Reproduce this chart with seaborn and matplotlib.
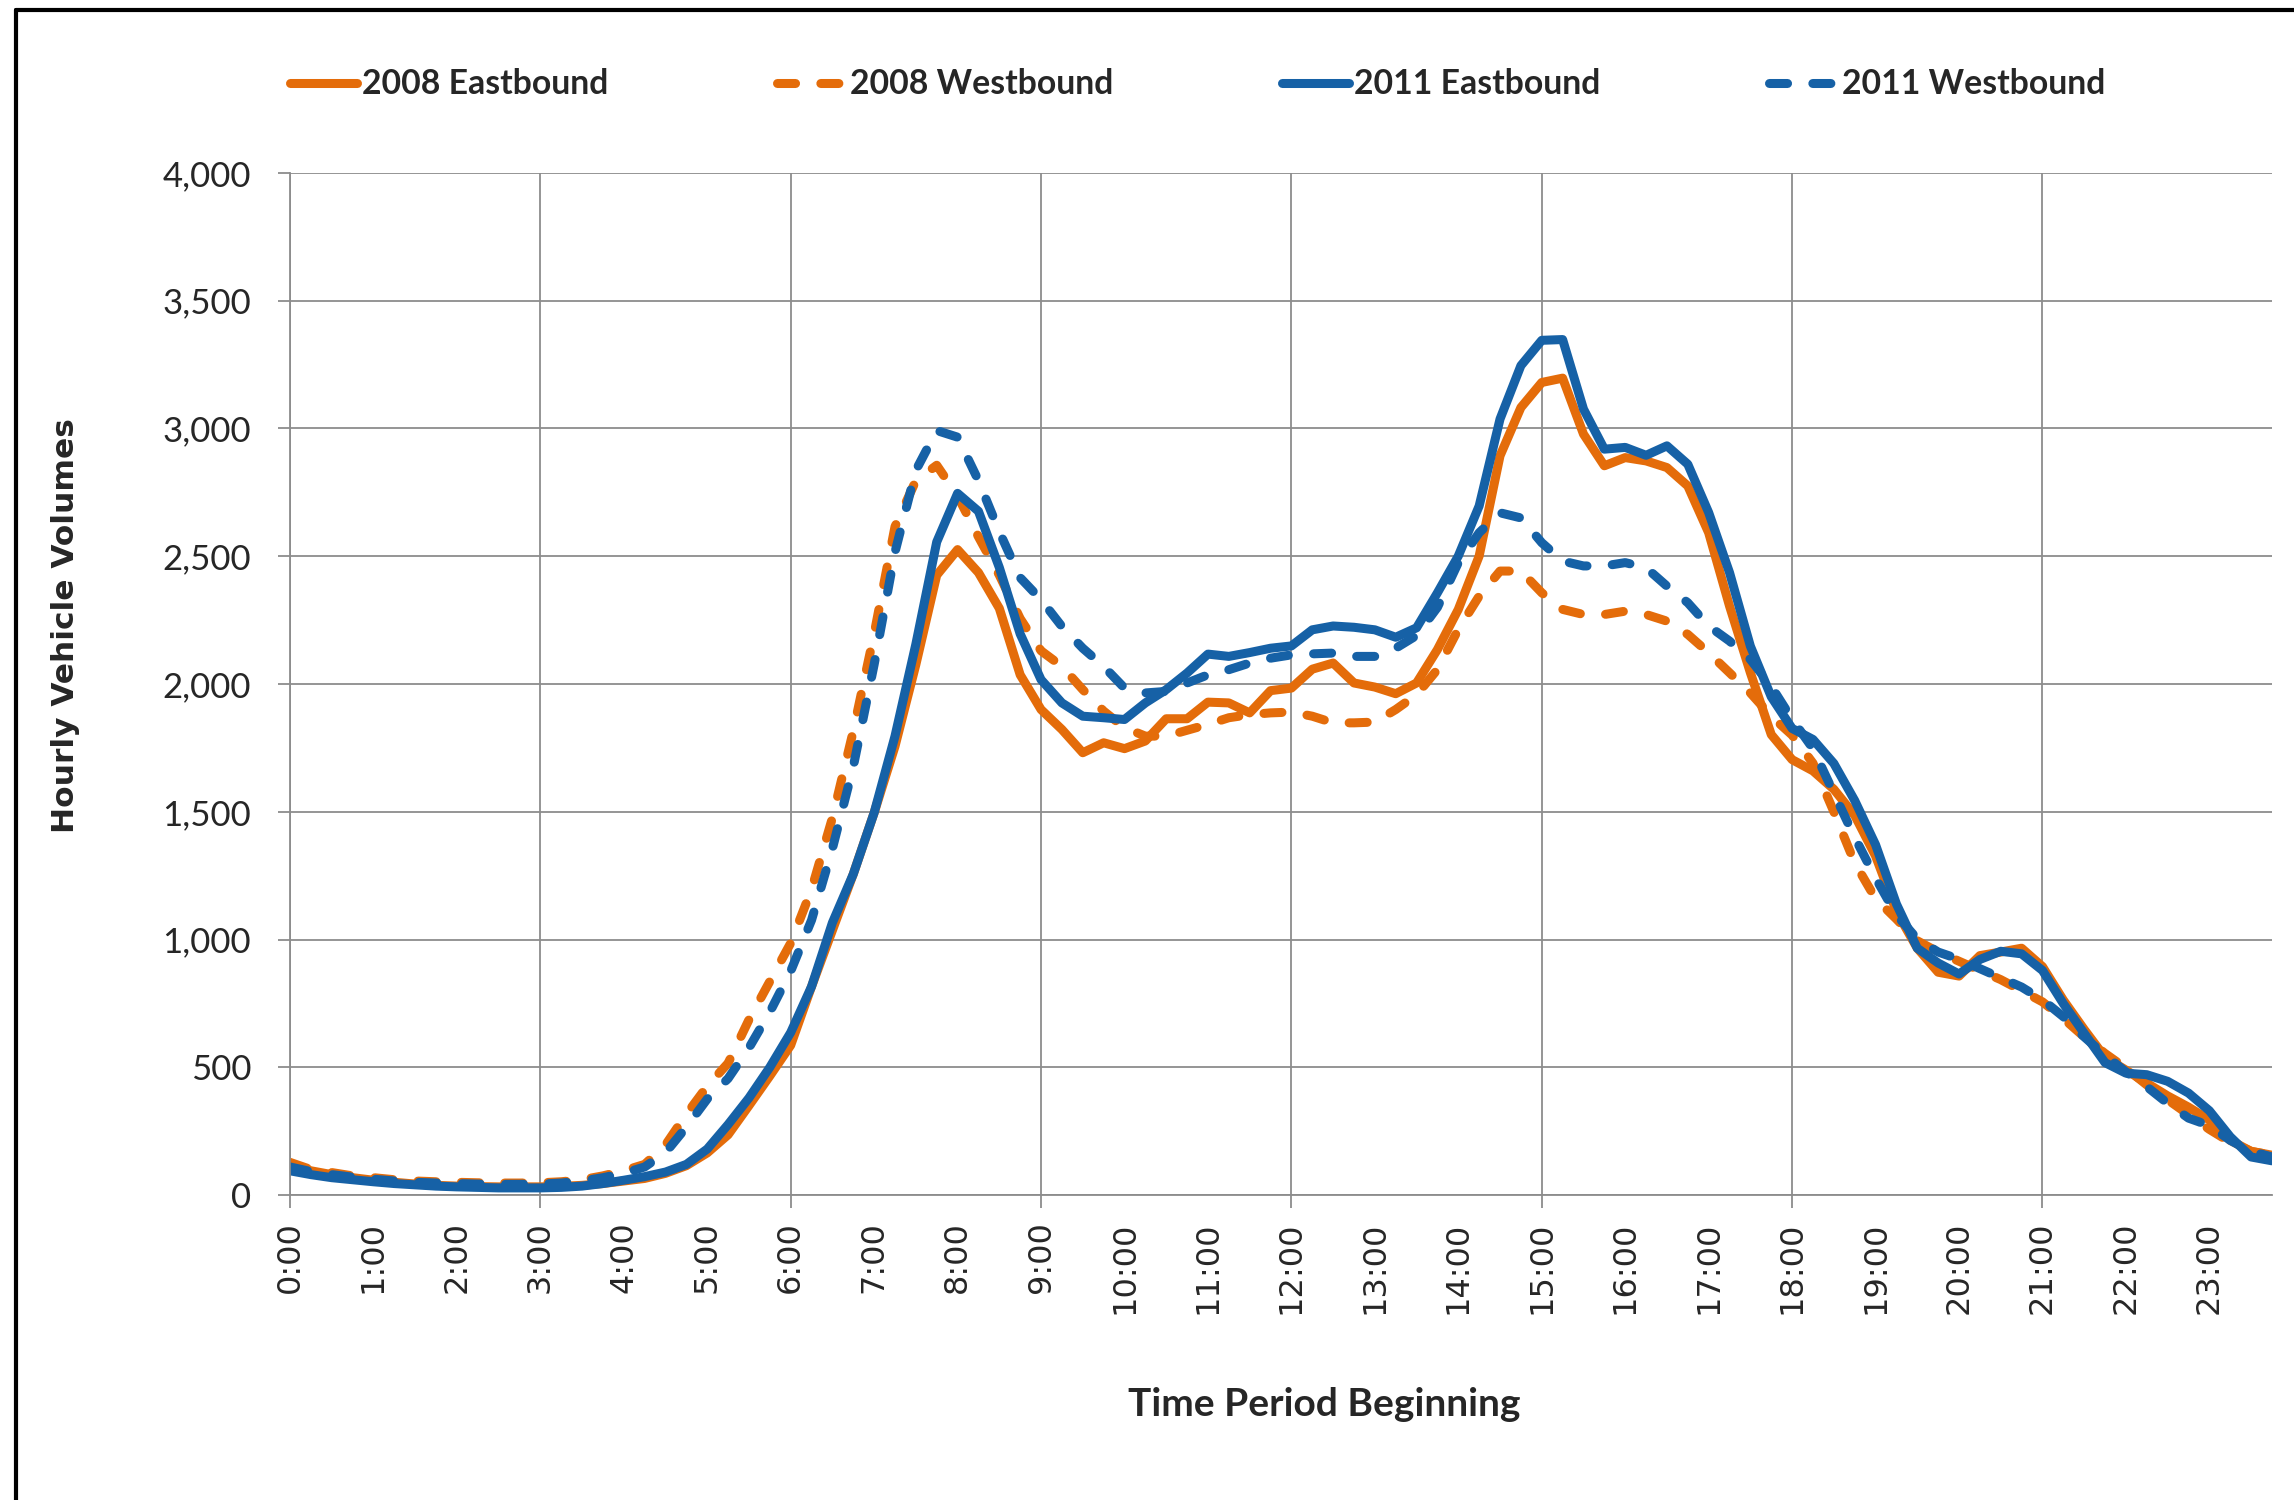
import numpy as np
import pandas as pd
import seaborn as sns
import matplotlib.pyplot as plt
from matplotlib import font_manager
from matplotlib.lines import Line2D
from matplotlib.ticker import FuncFormatter, MultipleLocator

# 15-minute counts, 0:00 .. 23:45 (hourly vehicle volumes)
eb_2008 = [115, 95, 80, 68, 58, 50, 43, 38, 35, 33, 32, 32, 32, 34, 38, 45,
           55, 65, 85, 115, 165, 236, 350, 466, 586, 816, 1036, 1256,
           1496, 1756, 2076, 2426, 2526, 2436, 2296, 2036, 1900, 1822, 1731, 1770,
           1747, 1777, 1864, 1864, 1929, 1926, 1887, 1974, 1984, 2058, 2082, 2004,
           1988, 1962, 2004, 2135, 2292, 2501, 2893, 3082, 3180, 3197, 2978, 2854,
           2886, 2873, 2847, 2775, 2592, 2305, 2044, 1802, 1704, 1660, 1588, 1486,
           1327, 1110, 966, 872, 857, 937, 951, 966, 894, 763, 648, 539,
           489, 438, 388, 344, 294, 214, 171, 156]
wb_2008 = [128, 100, 88, 75, 68, 60, 55, 52, 50, 48, 47, 47, 48, 52, 60, 75,
           95, 120, 196, 316, 426, 516, 686, 836, 986, 1196, 1476, 1816,
           2196, 2616, 2796, 2856, 2736, 2576, 2426, 2256, 2130, 2069, 1978, 1894,
           1829, 1796, 1796, 1819, 1842, 1868, 1880, 1887, 1890, 1874, 1848, 1848,
           1851, 1900, 1958, 2057, 2214, 2344, 2442, 2442, 2357, 2292, 2272, 2272,
           2285, 2272, 2246, 2194, 2122, 2044, 1965, 1874, 1800, 1690, 1500, 1300,
           1160, 1080, 995, 951, 915, 879, 843, 800, 756, 691, 619, 554,
           496, 431, 373, 315, 257, 207, 171, 156]
eb_2011 = [95, 80, 68, 60, 52, 45, 40, 35, 32, 30, 28, 28, 28, 30, 35, 45,
           58, 72, 90, 120, 180, 276, 380, 500, 636, 816, 1066, 1256,
           1496, 1796, 2156, 2556, 2746, 2676, 2456, 2196, 2017, 1926, 1874, 1868,
           1861, 1926, 1978, 2043, 2117, 2108, 2123, 2140, 2149, 2212, 2227, 2222,
           2212, 2183, 2220, 2357, 2501, 2697, 3037, 3246, 3345, 3348, 3076, 2919,
           2926, 2895, 2932, 2860, 2671, 2436, 2148, 1950, 1826, 1783, 1689, 1544,
           1371, 1139, 966, 908, 865, 922, 954, 944, 879, 749, 633, 518,
           477, 471, 445, 399, 330, 228, 149, 134]
wb_2011 = [110, 92, 80, 70, 62, 55, 50, 47, 45, 43, 42, 42, 43, 47, 55, 68,
           85, 110, 166, 266, 376, 456, 576, 716, 876, 1076, 1356, 1676,
           2076, 2516, 2836, 2992, 2966, 2796, 2596, 2416, 2330, 2225, 2140, 2069,
           1984, 1965, 1971, 2004, 2036, 2056, 2082, 2101, 2114, 2118, 2121, 2108,
           2108, 2140, 2190, 2300, 2475, 2592, 2670, 2650, 2553, 2481, 2462, 2462,
           2475, 2455, 2383, 2318, 2227, 2168, 2096, 1991, 1862, 1747, 1573, 1400,
           1241, 1096, 1002, 951, 923, 886, 850, 814, 764, 698, 619, 547,
           482, 424, 359, 301, 272, 214, 171, 149]

series_names = ['2008 Eastbound', '2008 Westbound', '2011 Eastbound', '2011 Westbound']
hours = np.arange(96) / 4.0
hour_labels = ['%d:00' % h for h in range(24)]

orange = '#E46C0A'
blue = '#1661A6'
grid_col = '#8C8C8C'
dash = (0, (2.0, 2.8))

sns.set_theme(style='white')
plt.rcParams['font.family'] = ['Lato', 'DejaVu Sans']

# condensed DejaVu for the rotated hour labels if it is there
installed = {f.name for f in font_manager.fontManager.ttflist}
if 'DejaVu Sans Condensed' in installed:
    xtick_font, xtick_size = 'DejaVu Sans Condensed', 25
else:
    xtick_font, xtick_size = 'DejaVu Sans', 23

fig = plt.figure(figsize=(22.94, 15), dpi=100)
ax = fig.add_axes([0.1264, 0.2033, 0.864, 0.6814])

styles = [(orange, '-'), (orange, dash), (blue, '-'), (blue, dash)]
for name, vals, (col, ls) in zip(series_names, [eb_2008, wb_2008, eb_2011, wb_2011], styles):
    df = pd.DataFrame({'hour': hours, 'volume': vals})
    sns.lineplot(data=df, x='hour', y='volume', ax=ax, color=col, linestyle=ls,
                 linewidth=6.5, label=name, dash_capstyle='round',
                 solid_capstyle='round', solid_joinstyle='round', legend=False)

ax.set_xlim(0, 23.75)
ax.set_ylim(0, 4000)

# y axis
ax.yaxis.set_major_locator(MultipleLocator(500))
ax.yaxis.set_major_formatter(FuncFormatter(lambda v, p: '{:,.0f}'.format(v)))
ax.tick_params(axis='y', which='major', left=True, length=9, width=1.3, color=grid_col,
               pad=19, labelsize=25)
ax.grid(axis='y', color=grid_col, linewidth=1.3)

# x axis: labels each hour, ticks + grid every 3 hours
ax.set_xticks(range(24))
ax.set_xticklabels(hour_labels, rotation=90, family=xtick_font, fontsize=xtick_size)
ax.xaxis.set_minor_locator(MultipleLocator(3))
ax.xaxis.remove_overlapping_locs = False
ax.tick_params(axis='x', which='major', bottom=True, length=0, pad=19)
ax.tick_params(axis='x', which='minor', bottom=True, length=9, width=1.3, color=grid_col)
ax.grid(axis='x', which='minor', color=grid_col, linewidth=1.3)
ax.grid(axis='x', which='major', visible=False)

for s in ['top', 'right']:
    ax.spines[s].set_visible(False)
for s in ['left', 'bottom']:
    ax.spines[s].set_color(grid_col)
    ax.spines[s].set_linewidth(1.3)

ax.set_xlabel('Time Period Beginning', fontsize=28, fontweight='bold')
ax.xaxis.set_label_coords(0.5217, -0.188)
ax.set_ylabel('Hourly Vehicle Volumes', fontsize=22.5, fontweight='bold', family='DejaVu Sans')
ax.yaxis.set_label_coords(-0.106, 0.557)

handles, labels = ax.get_legend_handles_labels()
fig.legend(handles, labels, loc='center', bbox_to_anchor=(0.522, 0.9437), ncol=4,
           frameon=False, prop={'size': 24.3, 'weight': 'bold'}, handlelength=2.0,
           handletextpad=0.15, columnspacing=5.0)

# chart area border (left and top edges visible)
fig.add_artist(Line2D([16 / 2294, 16 / 2294], [0, 1 - 10 / 1500], color='black', linewidth=3))
fig.add_artist(Line2D([16 / 2294, 1], [1 - 10 / 1500, 1 - 10 / 1500], color='black', linewidth=3))

fig.savefig('out.png', dpi=100)
